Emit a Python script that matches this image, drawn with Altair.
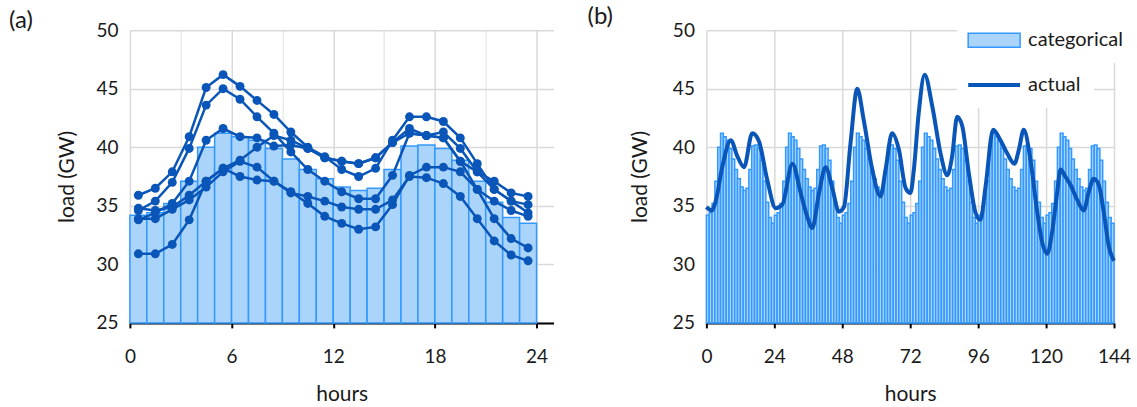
import altair as alt
import pandas as pd

BLUE = "#0a56b8"
BAR_FILL = "#abd4fb"
BAR_STROKE = "#3399ff"
FONT = "Lato"
TXT = "#1a1a1a"

# ---------------- data ----------------
hours = list(range(24))
# categorical (average) daily profile, GW
categorical = [34.2, 34.4, 35.2, 37.1, 40.0, 41.2, 40.9, 40.6, 39.9, 39.0, 38.1, 37.3,
               36.6, 36.3, 36.5, 38.1, 40.1, 40.2, 39.9, 38.9, 37.1, 35.3, 34.0, 33.5]

day1 = [34.8, 34.6, 34.9, 35.9, 37.1, 38.2, 38.9, 40.0, 41.0, 40.6, 39.9, 39.1,
        38.8, 38.6, 39.1, 40.4, 41.2, 41.0, 40.8, 38.8, 37.9, 36.4, 35.4, 35.1]
day2 = [33.9, 33.9, 34.7, 35.5, 36.6, 37.9, 38.8, 38.3, 37.1, 36.2, 35.2, 34.1,
        33.5, 33.0, 33.2, 35.1, 37.6, 38.3, 38.3, 37.9, 36.4, 35.4, 34.6, 34.1]
day3 = [34.6, 35.4, 37.0, 39.9, 43.6, 45.0, 44.1, 42.6, 41.2, 39.6, 38.1, 37.1,
        36.2, 35.6, 35.6, 37.6, 41.2, 41.0, 41.3, 39.9, 37.9, 37.1, 36.1, 35.8]
day4 = [35.9, 36.5, 37.9, 40.9, 45.1, 46.2, 45.2, 44.0, 42.8, 41.3, 40.0, 39.2,
        38.1, 37.5, 38.2, 40.6, 42.6, 42.6, 42.2, 40.8, 38.6, 36.4, 35.4, 34.4]
day5 = [33.8, 34.4, 35.2, 37.1, 40.6, 41.6, 40.9, 40.8, 40.1, 40.2, 39.9, 39.1,
        38.8, 38.6, 39.1, 40.4, 41.6, 41.0, 40.8, 38.8, 36.4, 33.9, 32.2, 31.4]
day6 = [30.9, 30.9, 31.7, 33.8, 37.1, 38.2, 37.5, 37.2, 37.1, 36.1, 35.8, 35.4,
        34.9, 34.7, 34.7, 35.5, 37.5, 37.4, 36.9, 35.8, 33.9, 32.0, 30.8, 30.3]
days = {"day 1": day1, "day 2": day2, "day 3": day3,
        "day 4": day4, "day 5": day5, "day 6": day6}

# panel (b): actual load
actual_hours = [0, 1.9, 3.3, 5.6, 8.6, 11, 13.3, 16.2, 18.6, 21.5, 24.5, 26.8, 30.4,
                33.3, 35.6, 37.4, 39.8, 42.1, 44.5, 46.8, 48.6, 50.9, 53.3, 55.6,
                58.6, 61.5, 63.3, 65.6, 68, 70.4, 72.1, 73.3, 75, 77.1, 79.8, 82.7,
                85.1, 86.8, 88.6, 90.4, 92.7, 95.1, 96.8, 98.6, 101.3, 103.9, 106.2,
                108.8, 110.4, 112.1, 114.5, 116.8, 118.6, 120.4, 122.1, 123.9, 125.1,
                126.8, 128.6, 131, 133.3, 135.1, 136.8, 138.6, 140.4, 142.2, 144]
actual_load = [34.9, 34.6, 35.4, 38.3, 40.6, 39.2, 38.3, 41.2, 40.5, 37.2, 34.8, 35.1,
               38.6, 36.1, 34.1, 33.1, 36.1, 38.3, 36.5, 34.5, 34.9, 40.3, 45.0, 42.3,
               38.1, 35.8, 38.1, 41.2, 39.8, 36.5, 36.1, 38.1, 42.9, 46.2, 43.5, 39.5,
               37.6, 39.2, 42.6, 41.8, 37.8, 34.4, 33.8, 36.6, 41.5, 40.6, 39.5,
               38.6, 39.8, 41.5, 38.9, 34.6, 31.9, 30.9, 32.7, 36.1, 38.1,
               37.5, 36.8, 35.5, 34.6, 36.2, 37.3, 36.8, 34.4, 31.5, 30.3]
n_days = 6

y_ticks = [25, 30, 35, 40, 45, 50]
x_grid_a = [0, 3, 6, 9, 12, 15, 18, 21, 24]
x_grid_b = [0, 12, 24, 36, 48, 60, 72, 84, 96, 108, 120, 132, 144]

# ---------------- tables ----------------
df_bar_a = pd.DataFrame({"h": hours, "h2": [h + 1 for h in hours], "load": categorical})
rows = []
for name, vals in days.items():
    for h, v in zip(hours, vals):
        rows.append({"day": name, "x": h + 0.5, "load": v})
df_lines = pd.DataFrame(rows)

bh = [d * 24 + h for d in range(n_days) for h in hours]
df_bar_b = pd.DataFrame({"h": bh, "h2": [h + 1 for h in bh],
                         "load": categorical * n_days, "series": "categorical"})
df_act = pd.DataFrame({"x": actual_hours, "load": actual_load, "series": "actual"})

# ---------------- axes ----------------
def y_axis(title_pad):
    return alt.Axis(values=y_ticks, title="load (GW)", domain=False, ticks=False,
                    grid=True, gridColor="#d9d9d9", gridWidth=1.5,
                    labelPadding=12, titlePadding=title_pad,
                    labelFont=FONT, labelFontSize=19, labelColor=TXT,
                    titleFont=FONT, titleFontSize=21, titleFontWeight="normal",
                    titleColor=TXT)

def x_axis(values, label_step, light_grid):
    cond = f"datum.value % {label_step} === 0"
    return alt.Axis(values=values, title="hours",
                    labelExpr=f"{cond} ? datum.label : ''",
                    tickOpacity=alt.condition(cond, alt.value(1), alt.value(0)) if light_grid else 1,
                    grid=True, gridWidth=1.5,
                    gridColor=alt.condition(cond, alt.value("#d9d9d9"), alt.value("#ebebeb"))
                    if light_grid else "#d9d9d9",
                    domainColor="black", domainWidth=2,
                    tickColor="black", tickWidth=2, tickSize=5,
                    labelPadding=20, titlePadding=17, labelFlush=False,
                    labelFont=FONT, labelFontSize=19, labelColor=TXT,
                    titleFont=FONT, titleFontSize=21, titleFontWeight="normal",
                    titleColor=TXT)

yscale = alt.Scale(domain=[25, 50], nice=False, zero=False)

def panel_title(txt, dx):
    return alt.TitleParams(txt, anchor="start", frame="group", dx=dx, dy=36, offset=0,
                           baseline="bottom", font=FONT, fontSize=24,
                           fontWeight="normal", color=TXT)

# ---------------- panel (a) ----------------
bars_a = alt.Chart(df_bar_a).mark_bar(fill=BAR_FILL, stroke=BAR_STROKE, strokeWidth=1.5).encode(
    x=alt.X("h:Q", scale=alt.Scale(domain=[0, 25], nice=False, zero=False),
            axis=x_axis(x_grid_a, 6, True)),
    x2="h2:Q",
    y=alt.Y("load:Q", scale=yscale, axis=y_axis(18)),
    y2=alt.datum(25),
)
lines_a = alt.Chart(df_lines).mark_line(
    color=BLUE, strokeWidth=2.5,
    point=alt.OverlayMarkDef(filled=True, size=80, color=BLUE, opacity=1),
).encode(
    x=alt.X("x:Q"),
    y=alt.Y("load:Q"),
    detail="day:N",
)
chart_a = alt.layer(bars_a, lines_a).properties(
    width=424, height=293, title=panel_title("(a)", -121),
)

# ---------------- panel (b) ----------------
RECT_PATH = "M-1.71,-1L5.71,-1L5.71,1L-1.71,1Z"
LINE_PATH = "M-1.71,0L5.71,0"

bars_b = alt.Chart(df_bar_b).mark_bar(stroke=BAR_STROKE, strokeWidth=1.5).encode(
    x=alt.X("h:Q", scale=alt.Scale(domain=[0, 144], nice=False, zero=False),
            axis=x_axis(x_grid_b, 24, False)),
    x2="h2:Q",
    y=alt.Y("load:Q", scale=yscale, axis=y_axis(22)),
    y2=alt.datum(25),
    fill=alt.Fill("series:N", scale=alt.Scale(domain=["categorical"], range=[BAR_FILL]),
                  legend=alt.Legend(title=None, orient="none", legendX=251, legendY=-13,
                                    symbolType=RECT_PATH, symbolSize=196,
                                    symbolStrokeColor=BAR_STROKE,
                                    symbolStrokeWidth=1.5, symbolOpacity=1,
                                    labelFont=FONT, labelFontSize=20, labelColor=TXT,
                                    labelOffset=38, padding=13, fillColor="white")),
)
line_b = alt.Chart(df_act).mark_line(strokeWidth=4, interpolate="monotone").encode(
    x=alt.X("x:Q"),
    y=alt.Y("load:Q"),
    stroke=alt.Stroke("series:N", scale=alt.Scale(domain=["actual"], range=[BLUE]),
                      legend=alt.Legend(title=None, orient="none", legendX=251, legendY=32,
                                        symbolType=LINE_PATH, symbolSize=196,
                                        symbolStrokeWidth=4,
                                        labelFont=FONT, labelFontSize=20, labelColor=TXT,
                                        labelOffset=38, padding=13, fillColor="white")),
)
chart_b = alt.layer(bars_b, line_b).resolve_scale(fill="independent", stroke="independent").properties(
    width=408, height=293, title=panel_title("(b)", -119),
)

chart = alt.hconcat(chart_a, chart_b, spacing=32).properties(
    padding={"left": 8, "top": 4, "right": 0, "bottom": 0},
    background="white",
).configure_view(stroke="transparent")

chart.save("out.html", embed_options={"renderer": "svg", "actions": False})
